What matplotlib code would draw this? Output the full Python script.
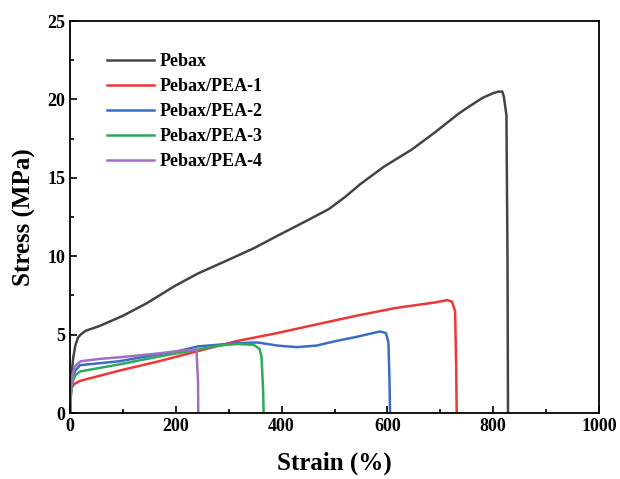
import matplotlib

matplotlib.use("Agg")

import matplotlib.pyplot as plt
from matplotlib.ticker import MultipleLocator

plt.rcParams["font.family"] = ["Liberation Serif", "DejaVu Serif"]
plt.rcParams["font.weight"] = "bold"

# strain (%) / stress (MPa)
pebax_strain = [0, 1, 3, 6, 10, 15, 20, 30, 56, 100, 145, 198, 242, 295, 347, 392,
                444, 489, 519, 549, 593, 646, 690, 735, 757, 780, 800, 810, 817, 820, 825, 827, 828]
pebax_stress = [0, 1.0, 2.5, 3.5, 4.3, 4.8, 5.0, 5.25, 5.55, 6.2, 7.0, 8.1, 8.9, 9.7, 10.5, 11.3,
                12.2, 13.0, 13.75, 14.6, 15.7, 16.8, 17.9, 19.1, 19.6, 20.1, 20.4, 20.5, 20.5, 20.2, 19.0, 10.0, 0]

pea1_strain = [0, 1, 3, 8, 19, 93, 168, 242, 317, 392, 466, 541, 616, 690, 713, 722, 728, 730, 731]
pea1_stress = [0, 1.0, 1.6, 1.85, 2.05, 2.7, 3.3, 3.95, 4.6, 5.1, 5.65, 6.2, 6.7, 7.05, 7.2, 7.1, 6.5, 3.0, 0]

pea2_strain = [0, 2, 5, 10, 19, 93, 168, 205, 242, 317, 354, 392, 429, 466, 504, 541, 586, 597, 602, 604, 605]
pea2_stress = [0, 1.5, 2.3, 2.7, 3.05, 3.3, 3.75, 3.95, 4.25, 4.45, 4.5, 4.3, 4.2, 4.3, 4.6, 4.85, 5.2, 5.1, 4.5, 2.0, 0]

pea3_strain = [0, 2, 5, 10, 19, 93, 168, 242, 280, 317, 347, 358, 362, 365, 366]
pea3_stress = [0, 1.3, 2.0, 2.4, 2.65, 3.1, 3.6, 4.05, 4.3, 4.4, 4.35, 4.1, 3.6, 1.5, 0]

pea4_strain = [0, 2, 5, 10, 20, 56, 93, 168, 205, 239, 242, 242.5]
pea4_stress = [0, 1.5, 2.5, 3.0, 3.3, 3.45, 3.55, 3.8, 3.95, 4.05, 2.0, 0]

labels = ["Pebax", "Pebax/PEA-1", "Pebax/PEA-2", "Pebax/PEA-3", "Pebax/PEA-4"]
colors = ["#444444", "#ee3636", "#3a6cc4", "#2daa5c", "#a070c0"]

fig = plt.figure(figsize=(6.2, 4.79), dpi=100)
ax = fig.add_axes([70 / 620, 1 - 413 / 479, 529 / 620, 392 / 479])

series = [
    (pebax_strain, pebax_stress),
    (pea1_strain, pea1_stress),
    (pea2_strain, pea2_stress),
    (pea3_strain, pea3_stress),
    (pea4_strain, pea4_stress),
]
for (x, y), label, color in zip(series, labels, colors):
    ax.plot(x, y, color=color, linewidth=1.8, label=label)

ax.set_xlim(0, 1000)
ax.set_ylim(0, 25)
ax.xaxis.set_major_locator(MultipleLocator(200))
ax.xaxis.set_minor_locator(MultipleLocator(100))
ax.yaxis.set_major_locator(MultipleLocator(5))
ax.yaxis.set_minor_locator(MultipleLocator(2.5))
ax.tick_params(which="both", direction="in", labelsize=13, width=1.2)
ax.tick_params(which="major", length=5)
ax.tick_params(which="minor", length=3)
for spine in ax.spines.values():
    spine.set_linewidth(1.3)

ax.set_xlabel("Strain (%)", fontsize=18, fontweight="bold", labelpad=12)
ax.set_ylabel("Stress (MPa)", fontsize=18, fontweight="bold", labelpad=8)

ax.legend(loc="upper left", bbox_to_anchor=(0.04, 0.96), frameon=False,
          handlelength=2.6, handletextpad=0.3, labelspacing=0.45,
          prop={"weight": "bold", "size": 13})

fig.savefig("out.png", dpi=100)
